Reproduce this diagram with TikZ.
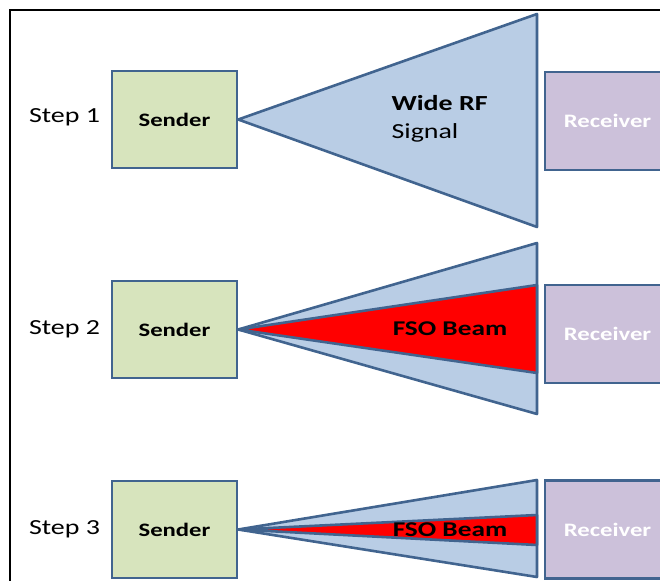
\documentclass[tikz,border=0pt]{standalone}
\usepackage{fontspec}
\setmainfont{Carlito}[FakeStretch=1.3]
\definecolor{sendgreen}{HTML}{D7E4BD}
\definecolor{recvlilac}{HTML}{CCC1DA}
\definecolor{sigblue}{HTML}{B9CDE5}
\definecolor{edgeblue}{HTML}{41648F}
\begin{document}
\begin{tikzpicture}[x=1pt,y=-1pt]
   \tikzstyle{sender}=[fill=sendgreen,draw=edgeblue,line width=2.4pt,minimum width=125pt,minimum height=97pt,inner sep=0pt,font=\bfseries\fontsize{19}{22}\selectfont]
   \tikzstyle{receiver}=[fill=recvlilac,draw=edgeblue,line width=2.4pt,minimum width=125pt,minimum height=98pt,inner sep=0pt,text=white,font=\bfseries\fontsize{19}{22}\selectfont]
   \tikzstyle{steplabel}=[node distance=110pt,font=\fontsize{21.5}{24}\selectfont]
   \tikzstyle{signal}=[fill=sigblue,draw=edgeblue,line width=2.6pt,line join=round]
   \tikzstyle{beam}=[fill=red,draw=edgeblue,line width=2.6pt,line join=round]
   \tikzstyle{beamtext}=[font=\bfseries\fontsize{21}{24}\selectfont]
   \useasboundingbox (0,0) rectangle (660,580);
   \clip (0,0) rectangle (660,580);
   \draw [line width=1.8pt] (10,10) rectangle (700,620);
   % step 1
   \node (s1) [sender] at (174.5,119.5) {Sender} ;
   \node (r1) [receiver] at (607.5,121) {Receiver} ;
   \node (l1) [steplabel,left of=s1,yshift=2pt] {Step 1} ;
   \filldraw [signal] (s1.east) -- (537,14) -- (537,227) -- cycle ;
   \node (rf) [align=left,anchor=west,font=\fontsize{21.5}{28}\selectfont] at (388,119) {\textbf{Wide RF}\\Signal} ;
   % step 2
   \node (s2) [sender] at (174.5,329.5) {Sender} ;
   \node (r2) [receiver] at (607.5,334) {Receiver} ;
   \node (l2) [steplabel,left of=s2] {Step 2} ;
   \filldraw [signal] (s2.east) -- (537,243) -- (537,414) -- cycle ;
   \filldraw [beam] (s2.east) -- (537,285) -- (537,373) -- cycle ;
   \node (fso2) [beamtext] at (450,329) {FSO Beam} ;
   % step 3
   \node (s3) [sender] at (174.5,529.5) {Sender} ;
   \node (r3) [receiver] at (607.5,529.5) {Receiver} ;
   \node (l3) [steplabel,left of=s3] {Step 3} ;
   \filldraw [signal] (s3.east) -- (537,480) -- (537,577) -- cycle ;
   \filldraw [beam] (s3.east) -- (537,515) -- (537,545) -- cycle ;
   \node (fso3) [beamtext] at (450,530) {FSO Beam} ;
\end{tikzpicture}
\end{document}
